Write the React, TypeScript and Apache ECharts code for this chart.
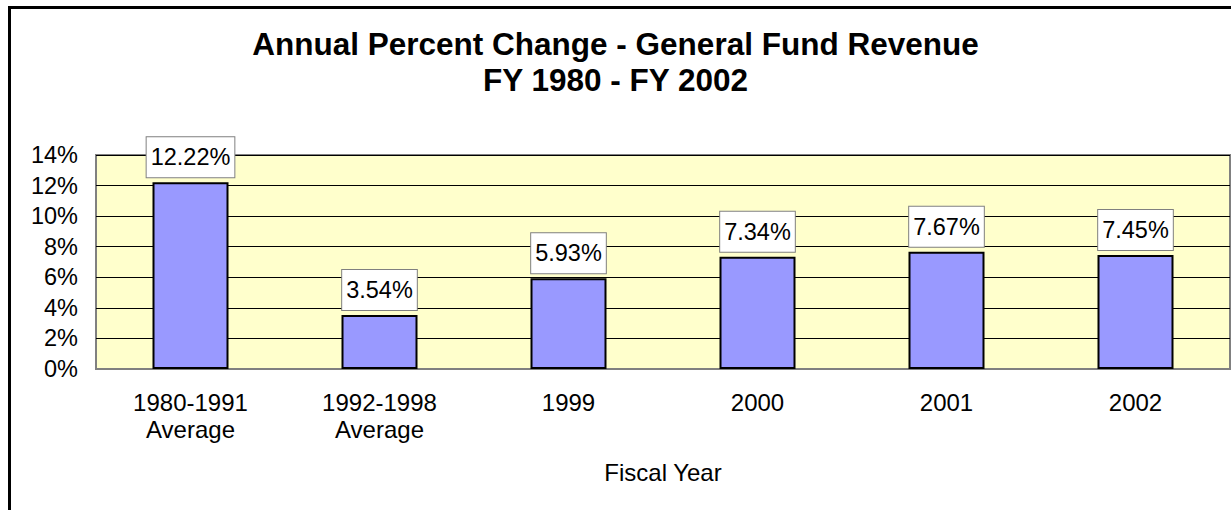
import React, { useEffect, useRef } from "react";
import * as echarts from "echarts";

const categories = ["1980-1991\nAverage", "1992-1998\nAverage", "1999", "2000", "2001", "2002"];
const values = [12.22, 3.54, 5.93, 7.34, 7.67, 7.45];
const titleLines = ["Annual Percent Change - General Fund Revenue", "FY 1980 - FY 2002"];
const xAxisName = "Fiscal Year";

export default function App() {
  const ref = useRef<HTMLDivElement>(null);
  useEffect(() => {
    document.body.style.margin = "0";
    const chart = echarts.init(ref.current!, null, { renderer: "svg" });
    const font = "Liberation Sans, Arial, sans-serif";
    chart.setOption({
      animation: false,
      backgroundColor: "#ffffff",
      textStyle: { fontFamily: font },
      title: {
        text: titleLines.join("\n"),
        left: "center",
        top: 26,
        padding: 0,
        textStyle: { fontSize: 31.5, fontWeight: "bold", color: "#000", lineHeight: 36, fontFamily: font },
      },
      graphic: [
        {
          type: "rect",
          shape: { x: 9.5, y: 7.5, width: 1300, height: 600 },
          style: { fill: "none", stroke: "#000", lineWidth: 3 },
          silent: true,
          z: 100,
        },
      ],
      grid: {
        left: 96,
        top: 155,
        right: 1,
        height: 214,
        show: true,
        backgroundColor: "#FFFFCC",
        borderColor: "#808080",
        borderWidth: 2,
      },
      xAxis: {
        type: "category",
        data: categories,
        axisTick: { show: false },
        axisLine: { show: true, lineStyle: { color: "#808080", width: 2 } },
        axisLabel: { fontSize: 24, color: "#000", margin: 20, lineHeight: 27, fontFamily: font },
        name: xAxisName,
        nameLocation: "middle",
        nameGap: 91,
        nameTextStyle: { fontSize: 24, color: "#000", fontFamily: font },
      },
      yAxis: {
        type: "value",
        min: 0,
        max: 14,
        interval: 2,
        axisLine: { show: false },
        axisTick: { show: false },
        axisLabel: { formatter: "{value}%", fontSize: 23.5, color: "#000", margin: 18, fontFamily: font },
        splitLine: { show: true, lineStyle: { color: "#000", width: 1 } },
      },
      series: [
        {
          type: "bar",
          data: values,
          barWidth: 76,
          itemStyle: { color: "#9999FF", borderColor: "#000", borderWidth: 2 },
          label: {
            show: true,
            position: "top",
            distance: 5,
            formatter: (p: any) => p.value.toFixed(2) + "%",
            fontSize: 23.5,
            color: "#000",
            backgroundColor: "#fff",
            borderColor: "#808080",
            borderWidth: 1,
            padding: [7, 4, 7, 4],
            lineHeight: 26,
            fontFamily: font,
          },
        },
      ],
    });
    return () => chart.dispose();
  }, []);
  return <div ref={ref} style={{ width: 1231, height: 510, position: "absolute", left: 0, top: 0 }} />;
}
